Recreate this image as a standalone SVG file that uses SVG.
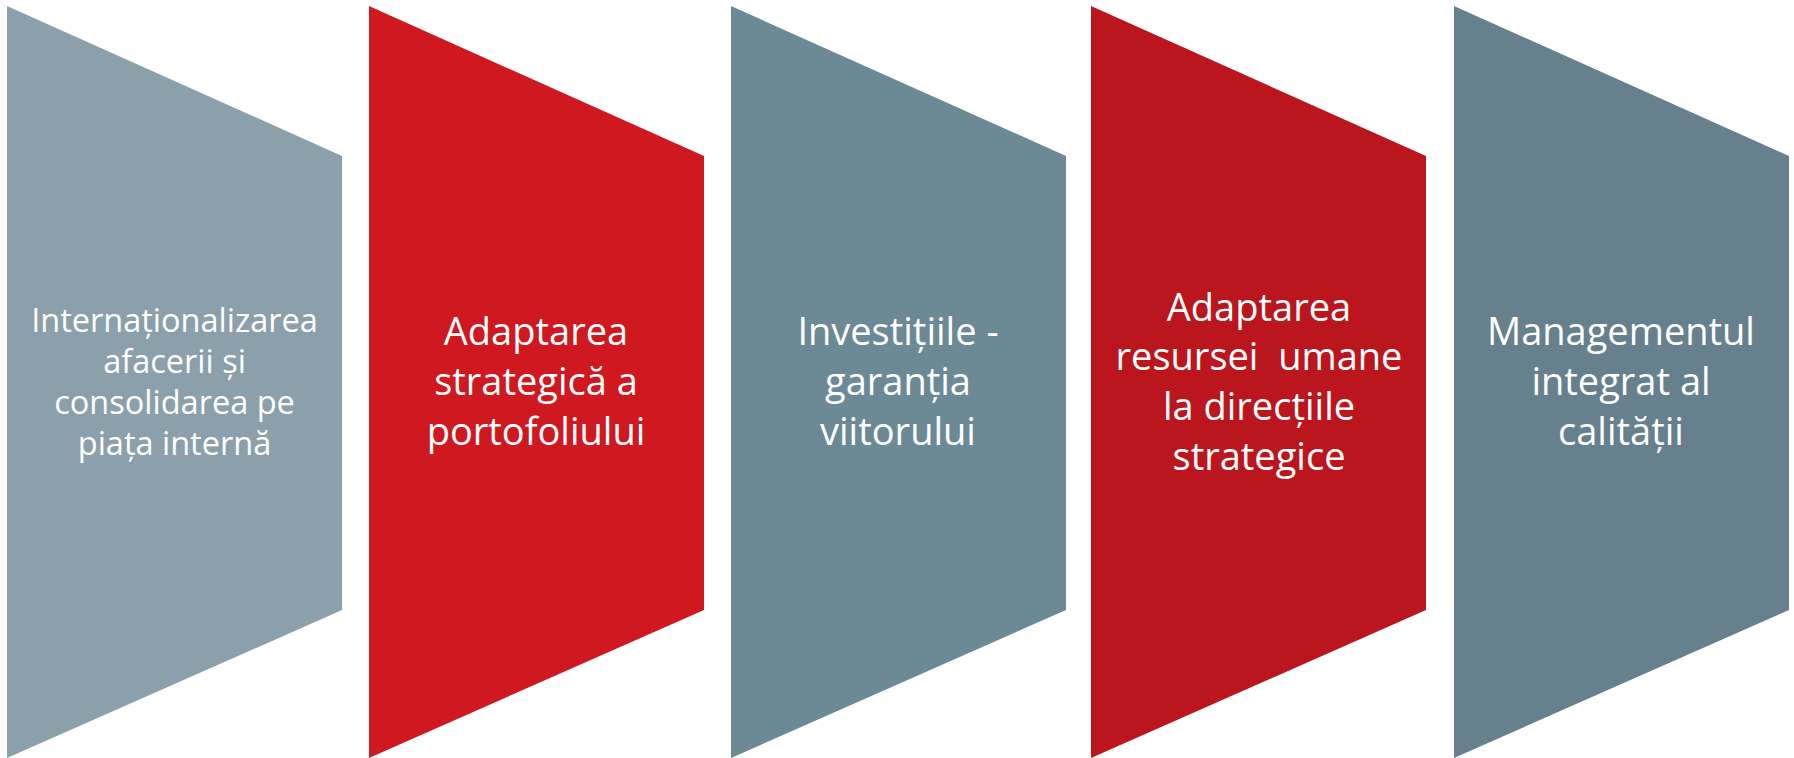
<svg xmlns="http://www.w3.org/2000/svg" width="1794" height="758" viewBox="0 0 1794 758">
<style>
.t{font-family:"Open Sans","Noto Sans","Liberation Sans",sans-serif;fill:#ffffff;text-anchor:middle}
.big{font-size:38px}
.small{font-size:32.5px}
</style>
<defs>
<path id="chev" d="M0,6 L335,156 L335,610 L0,758 Z"/>
</defs>
<rect width="1794" height="758" fill="#ffffff"/>
<g id="connectors"></g>
<g id="node1">
<use href="#chev" x="7" fill="#8BA0AB"/>
<text class="t small" x="174.5"><tspan x="174.5" y="332">Internaționalizarea</tspan><tspan x="174.5" y="373">afacerii și</tspan><tspan x="174.5" y="414">consolidarea pe</tspan><tspan x="174.5" y="455">piața internă</tspan></text>
</g>
<g id="node2">
<use href="#chev" x="369" fill="#CF1820"/>
<text class="t big" x="536"><tspan x="536" y="345">Adaptarea</tspan><tspan x="536" y="395">strategică a</tspan><tspan x="536" y="445">portofoliului</tspan></text>
</g>
<g id="node3">
<use href="#chev" x="731" fill="#6C8996"/>
<text class="t big" x="898"><tspan x="898" y="345">Investițiile -</tspan><tspan x="898" y="395">garanția</tspan><tspan x="898" y="445">viitorului</tspan></text>
</g>
<g id="node4">
<use href="#chev" x="1091" fill="#BB161E"/>
<text class="t big" x="1259" xml:space="preserve"><tspan x="1259" y="321">Adaptarea</tspan><tspan x="1259" y="370">resursei  umane</tspan><tspan x="1259" y="420">la direcțiile</tspan><tspan x="1259" y="470">strategice</tspan></text>
</g>
<g id="node5">
<use href="#chev" x="1454" fill="#66808D"/>
<text class="t big" x="1621"><tspan x="1621" y="345">Managementul</tspan><tspan x="1621" y="395">integrat al</tspan><tspan x="1621" y="445">calității</tspan></text>
</g>
</svg>
